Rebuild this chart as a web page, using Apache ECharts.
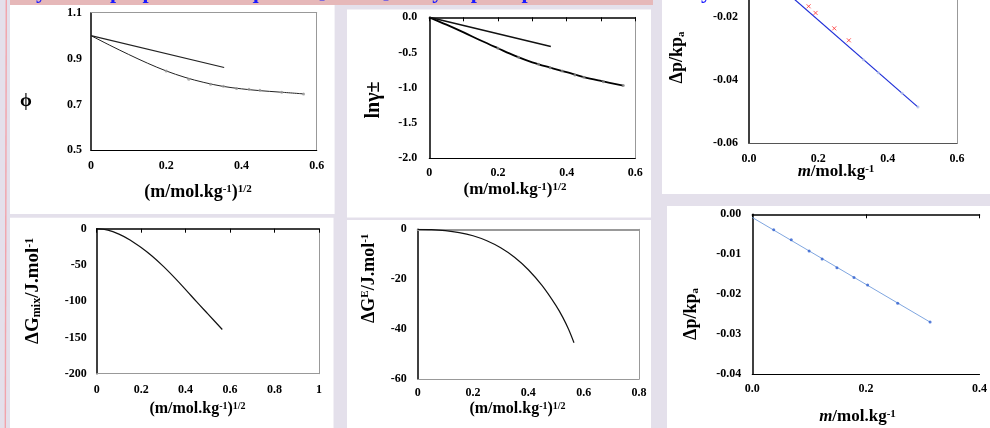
<!DOCTYPE html>
<html><head><meta charset="utf-8">
<script src="https://cdn.jsdelivr.net/npm/echarts@6/dist/echarts.min.js"></script>
<style>html,body{margin:0;padding:0;background:#e4e0eb}#c{width:990px;height:428px}</style>
</head><body><div id="c"></div>
<script>
// ---------- DATA ----------
// Panel 1: osmotic coefficient phi vs sqrt(m)
const phiCurveX = [0, 0.05, 0.1, 0.15, 0.2, 0.25, 0.3, 0.35, 0.4, 0.45, 0.5, 0.565];
const phiCurveY = [1.0, 0.958, 0.918, 0.88, 0.846, 0.818, 0.796, 0.779, 0.768, 0.760, 0.754, 0.746];
const phiPtsX = [0.2, 0.26, 0.318, 0.352, 0.387, 0.42, 0.449, 0.507, 0.565];
const phiPtsY = [0.846, 0.81, 0.788, 0.779, 0.770, 0.766, 0.762, 0.753, 0.745];
const phiDHX = [0, 0.354];
const phiDHY = [1.0, 0.861];
// Panel 2: ln gamma vs sqrt(m)
const lngCurveX = [0, 0.05, 0.1, 0.15, 0.2, 0.25, 0.3, 0.35, 0.4, 0.45, 0.5, 0.565];
const lngCurveY = [0, -0.105, -0.215, -0.33, -0.44, -0.548, -0.64, -0.713, -0.78, -0.85, -0.905, -0.97];
const lngPtsX = [0.2, 0.26, 0.318, 0.352, 0.387, 0.424, 0.45, 0.507, 0.565];
const lngPtsY = [-0.44, -0.569, -0.668, -0.716, -0.763, -0.82, -0.853, -0.915, -0.97];
const lngDHX = [0, 0.354];
const lngDHY = [0, -0.414];
// Panel 3: delta p / kPa vs m (upper part of the plot is cut off by the slide edge)
const dp1LineX = [0, 0.4875];
const dp1LineY = [-0.0017, -0.0485];
const dp1RedX = [0.172, 0.192, 0.246, 0.288];
const dp1RedY = [-0.0165, -0.0186, -0.0235, -0.0273];
const dp1PtsX = [0.33, 0.373, 0.442, 0.4875];
const dp1PtsY = [-0.0335, -0.0376, -0.0441, -0.0485];
const dp1VisibleTop = -0.0145;
// Panel 4: delta G mix vs sqrt(m)
const gmixX = [0, 0.05, 0.1, 0.15, 0.2, 0.25, 0.3, 0.35, 0.4, 0.45, 0.5, 0.565];
const gmixY = [0, -2, -7.5, -15.5, -26, -38, -52, -67.5, -84, -101, -117.5, -139];
// Panel 5: delta G excess vs sqrt(m)
const geX = [0, 0.05, 0.1, 0.15, 0.2, 0.25, 0.3, 0.35, 0.4, 0.45, 0.5, 0.525, 0.545, 0.565];
const geY = [0, -0.1, -0.5, -1.3, -2.6, -4.6, -7.4, -11.2, -16.2, -22.6, -30.6, -35.4, -40.0, -45.5];
// Panel 6: delta p / kPa vs m
const dp2LineX = [0, 0.313];
const dp2LineY = [-0.0008, -0.0270];
const dp2PtsX = [0.0377, 0.0686, 0.1, 0.1229, 0.149, 0.179, 0.203, 0.256, 0.313];
const dp2PtsY = [-0.0039, -0.0064, -0.0092, -0.0112, -0.0134, -0.0158, -0.0177, -0.0223, -0.0270];
// Tick labels
const xTicks06 = ['0', '0.2', '0.4', '0.6'];
const xTicks10 = ['0', '0.2', '0.4', '0.6', '0.8', '1'];
const xTicks08 = ['0', '0.2', '0.4', '0.6', '0.8'];
const xTicks3 = ['0.0', '0.2', '0.4', '0.6'];
const xTicks6 = ['0.0', '0.2', '0.4'];
const yTicks1 = ['0.5', '0.7', '0.9', '1.1'];
const yTicks2 = ['-2.0', '-1.5', '-1.0', '-0.5', '0.0'];
const yTicks3 = ['-0.06', '-0.04', '-0.02', '0.00'];
const yTicks4 = ['-200', '-150', '-100', '-50', '0'];
const yTicks5 = ['-60', '-40', '-20', '0'];
const yTicks6 = ['-0.04', '-0.03', '-0.02', '-0.01', '0.00'];

// ---------- HELPERS ----------
const FF = '"Liberation Serif", "Times New Roman", serif';
const zip = (a, b) => a.map((v, i) => [v, b[i]]);
const fmt = (labels, min, iv) => (v) => {
  const r = (v - min) / iv, k = Math.round(r);
  if (Math.abs(r - k) > 0.01) return '';
  return labels[k] !== undefined ? labels[k] : '';
};
function mainX(gi, min, max, iv, labels, color, margin) {
  return { gridIndex: gi, type: 'value', position: 'bottom', min, max, interval: iv,
    axisLine: { show: true, onZero: false, lineStyle: { color, width: 1.2 } },
    axisTick: { show: false }, splitLine: { show: false },
    axisLabel: { margin, color: '#000', fontFamily: FF, fontWeight: 'bold', fontSize: 12, formatter: fmt(labels, min, iv) } };
}
function topX(gi, min, max, iv, color, width, ticks, show) {
  return { gridIndex: gi, type: 'value', position: 'top', min, max, interval: iv,
    axisLine: { show: show !== false, onZero: false, lineStyle: { color, width } },
    axisTick: { show: ticks, inside: true, length: 4, lineStyle: { color, width: 1 } },
    axisLabel: { show: false }, splitLine: { show: false } };
}
function mainY(gi, min, max, iv, labels, color, margin) {
  return { gridIndex: gi, type: 'value', position: 'left', min, max, interval: iv,
    axisLine: { show: true, onZero: false, lineStyle: { color, width: 1.5 } },
    axisTick: { show: false }, splitLine: { show: false },
    axisLabel: { margin, color: '#000', fontFamily: FF, fontWeight: 'bold', fontSize: 12, formatter: fmt(labels, min, iv), showMaxLabel: true } };
}
function rightY(gi, min, max, iv, color, show) {
  return { gridIndex: gi, type: 'value', position: 'right', min, max, interval: iv,
    axisLine: { show: show !== false, onZero: false, lineStyle: { color, width: 1 } },
    axisTick: { show: false }, axisLabel: { show: false }, splitLine: { show: false } };
}
function curve(p, x, y, color, width, smooth) {
  return { type: 'line', xAxisIndex: 2 * p, yAxisIndex: 2 * p, data: zip(x, y), smooth: smooth ? 0.35 : false,
    showSymbol: false, symbol: 'none', lineStyle: { color, width }, silent: true, z: 3 };
}
function pts(p, x, y, color, size, symbol) {
  return { type: 'scatter', xAxisIndex: 2 * p, yAxisIndex: 2 * p, data: zip(x, y), symbol: symbol || 'circle',
    symbolSize: size, itemStyle: { color }, silent: true, z: 4 };
}
const big = 'bold 18px ' + FF;
const supF = 'bold 11px ' + FF;
function title(x, y, text, font, rot, rich) {
  return { type: 'text', x, y, rotation: rot || 0, z: 10,
    style: { text, font, fill: '#000', align: 'center', verticalAlign: 'middle', rich: rich || {} } };
}
const richXT = (f, s) => ({ sup: { font: s, verticalAlign: 'top', fill: '#000' }, it: { font: 'italic ' + f, fill: '#000' } });
const rect = (x, y, w, h, fill) => ({ type: 'rect', shape: { x, y, width: w, height: h }, style: { fill }, z: -10, silent: true });

const chart = echarts.init(document.getElementById('c'), null, { renderer: 'canvas' });
const y3 = mainY(2, -0.06, dp1VisibleTop, 0.02, yTicks3, '#000', 11);
y3.axisLabel.showMaxLabel = false;
chart.setOption({
  backgroundColor: '#e4e0eb',
  animation: false,
  grid: [
    { left: 91, top: 12.7, width: 225.7, height: 137.6 },
    { left: 429.3, top: 17.3, width: 206, height: 140.7 },
    { left: 749, top: 0, width: 208, height: 143.3 },
    { left: 96.7, top: 228.7, width: 222.3, height: 145 },
    { left: 417.7, top: 229.3, width: 221.3, height: 149.7 },
    { left: 752.3, top: 214.3, width: 233.4, height: 159.7 }
  ],
  xAxis: [
    mainX(0, 0, 0.6, 0.2, xTicks06, '#000', 10), topX(0, 0, 0.6, 0.2, '#999', 1, false),
    mainX(1, 0, 0.6, 0.2, xTicks06, '#000', 9), topX(1, 0, 0.6, 0.1, '#000', 1.5, true),
    mainX(2, 0, 0.6, 0.2, xTicks3, '#555', 10), topX(2, 0, 0.6, 0.2, '#000', 1.5, false, false),
    mainX(3, 0, 1, 0.2, xTicks10, '#999', 10), topX(3, 0, 1, 0.2, '#000', 1.5, true),
    mainX(4, 0, 0.8, 0.2, xTicks08, '#999', 8), topX(4, 0, 0.8, 0.2, '#999', 2, false),
    mainX(5, 0, 0.4, 0.2, xTicks6, '#000', 9), topX(5, 0, 0.4, 0.2, '#000', 1.5, true)
  ],
  yAxis: [
    mainY(0, 0.5, 1.1, 0.2, yTicks1, '#000', 9), rightY(0, 0.5, 1.1, 0.2, '#999'),
    mainY(1, -2, 0, 0.5, yTicks2, '#000', 12), rightY(1, -2, 0, 0.5, '#999'),
    y3, rightY(2, -0.06, dp1VisibleTop, 0.02, '#999'),
    mainY(3, -200, 0, 50, yTicks4, '#000', 10), rightY(3, -200, 0, 50, '#999'),
    mainY(4, -60, 0, 20, yTicks5, '#000', 11), rightY(4, -60, 0, 20, '#999'),
    mainY(5, -0.04, 0, 0.01, yTicks6, '#000', 11), rightY(5, -0.04, 0, 0.01, '#000', false)
  ],
  series: [
    curve(0, phiCurveX, phiCurveY, '#222', 1, true),
    curve(0, phiDHX, phiDHY, '#222', 1.2, false),
    pts(0, phiPtsX, phiPtsY, '#999', 3),
    curve(1, lngCurveX, lngCurveY, '#000', 1.8, true),
    curve(1, lngDHX, lngDHY, '#111', 1.5, false),
    pts(1, lngPtsX, lngPtsY, '#888', 3),
    curve(2, dp1LineX, dp1LineY, '#1f2fd8', 1.2, false),
    pts(2, dp1PtsX, dp1PtsY, '#b8c4e8', 3),
    { type: 'scatter', xAxisIndex: 4, yAxisIndex: 4, data: zip(dp1RedX, dp1RedY), symbol: 'path://M0,0L10,10M10,0L0,10',
      symbolSize: 4, itemStyle: { color: 'rgba(0,0,0,0)', borderColor: '#ff3030', borderWidth: 1 }, silent: true, z: 5 },
    curve(3, gmixX, gmixY, '#111', 1.2, true),
    curve(4, geX, geY, '#111', 1.2, true),
    curve(5, dp2LineX, dp2LineY, '#7fa6e0', 1, false),
    pts(5, dp2PtsX, dp2PtsY, '#2f5fd0', 3)
  ],
  graphic: { elements: [
    rect(0, 0, 990, 428, '#e4e0eb'),
    { type: 'line', shape: { x1: 6.3, y1: 0, x2: 5.3, y2: 428 }, style: { stroke: '#f2a3ab', lineWidth: 1.4 }, z: -9, silent: true },
    rect(10, 0, 643, 5, '#e6b8b9'),
    rect(10, 5, 324.6, 209, '#ffffff'),
    rect(347, 9.5, 304, 208, '#ffffff'),
    rect(662, 0, 328, 194, '#ffffff'),
    rect(10, 217.7, 323.5, 211, '#ffffff'),
    rect(347, 220, 304, 208, '#ffffff'),
    rect(667, 206, 323, 222, '#ffffff'),
    { type: 'text', x: 330, y: 3.5, z: -9, silent: true,
      style: { text: 'Thermodynamic properties of aqueous [Emim]Br by vapour pressure osmometry', font: 'bold 22px ' + FF, fill: '#1a1aff', align: 'center', verticalAlign: 'bottom' } },
    // axis titles
    title(198, 192.7, '(m/mol.kg{sup|-1})' + '{sup|1/2}', big, 0, richXT(big, supF)),
    title(26, 101, 'ϕ', 'bold 19px ' + FF, 0),
    title(515, 190, '(m/mol.kg{sup|-1})' + '{sup|1/2}', 'bold 17px ' + FF, 0, richXT('bold 17px ' + FF, supF)),
    title(374.3, 100, 'lnγ±', 'bold 20px ' + FF, Math.PI / 2),
    title(836, 171.7, '{it|m}/mol.kg{sup|-1}', 'bold 17px ' + FF, 0, richXT('bold 17px ' + FF, supF)),
    title(677.5, 57.5, 'Δp/kp{sub|a}', 'bold 18px ' + FF, Math.PI / 2, { sub: { font: supF, verticalAlign: 'bottom', fill: '#000' } }),
    title(197.5, 409.3, '(m/mol.kg{sup|-1})' + '{sup|1/2}', 'bold 16px ' + FF, 0, richXT('bold 16px ' + FF, 'bold 10px ' + FF)),
    title(33.3, 290.8, 'ΔG{sub|mix}/J.mol{sup|-1}', 'bold 19px ' + FF, Math.PI / 2,
      { sub: { font: 'bold 12px ' + FF, verticalAlign: 'bottom', fill: '#000' }, sup: { font: 'bold 12px ' + FF, verticalAlign: 'top', fill: '#000' } }),
    title(517.5, 409.3, '(m/mol.kg{sup|-1})' + '{sup|1/2}', 'bold 16px ' + FF, 0, richXT('bold 16px ' + FF, 'bold 10px ' + FF)),
    title(369, 278.3, 'ΔG{sup|E}/J.mol{sup|-1}', 'bold 18px ' + FF, Math.PI / 2,
      { sup: { font: 'bold 11px ' + FF, verticalAlign: 'top', fill: '#000' } }),
    title(857.5, 416.7, '{it|m}/mol.kg{sup|-1}', 'bold 17px ' + FF, 0, richXT('bold 17px ' + FF, supF)),
    title(691.7, 314, 'Δp/kp{sub|a}', 'bold 18px ' + FF, Math.PI / 2, { sub: { font: supF, verticalAlign: 'bottom', fill: '#000' } })
  ] }
});
</script>
</body></html>
